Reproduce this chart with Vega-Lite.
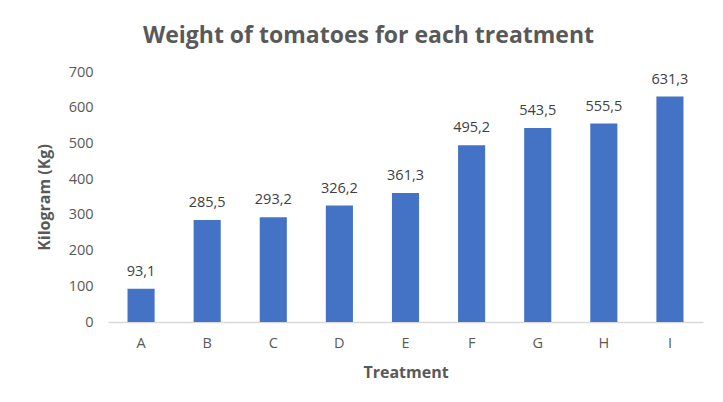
{
  "$schema": "https://vega.github.io/schema/vega-lite/v6.json",
  "width": 595,
  "height": 250,
  "autosize": {"type": "none"},
  "padding": {"left": 108, "top": 72, "right": 20, "bottom": 80},
  "background": "white",
  "config": {
    "locale": {"number": {"decimal": ",", "thousands": ".", "grouping": [3], "currency": ["", ""]}},
    "view": {"stroke": null},
    "font": "Open Sans"
  },
  "title": {
    "text": "Weight of tomatoes for each treatment",
    "anchor": "middle",
    "dx": -37,
    "offset": 16,
    "fontSize": 23,
    "fontWeight": "bold",
    "color": "#595959",
    "font": "Open Sans"
  },
  "data": {
    "values": [
      {"treatment": "A", "kg": 93.1},
      {"treatment": "B", "kg": 285.5},
      {"treatment": "C", "kg": 293.2},
      {"treatment": "D", "kg": 326.2},
      {"treatment": "E", "kg": 361.3},
      {"treatment": "F", "kg": 495.2},
      {"treatment": "G", "kg": 543.5},
      {"treatment": "H", "kg": 555.5},
      {"treatment": "I", "kg": 631.3}
    ]
  },
  "encoding": {
    "x": {
      "field": "treatment",
      "type": "nominal",
      "sort": null,
      "scale": {"paddingInner": 0.59, "paddingOuter": 0.295},
      "axis": {
        "title": "Treatment",
        "labelAngle": 0,
        "ticks": false,
        "domainColor": "#d9d9d9",
        "domainWidth": 1.5,
        "labelColor": "#595959",
        "labelFontSize": 14.5,
        "labelPadding": 14,
        "titleColor": "#595959",
        "titleFontSize": 16,
        "titleFontWeight": "bold",
        "titlePadding": 15
      }
    },
    "y": {
      "field": "kg",
      "type": "quantitative",
      "scale": {"domain": [0, 700]},
      "axis": {
        "title": "Kilogram (Kg)",
        "values": [0, 100, 200, 300, 400, 500, 600, 700],
        "grid": false,
        "domain": false,
        "ticks": false,
        "labelColor": "#595959",
        "labelFontSize": 14.5,
        "labelPadding": 15,
        "titleColor": "#595959",
        "titleFontSize": 16,
        "titleFontWeight": "bold",
        "titlePadding": 16
      }
    }
  },
  "layer": [
    {"mark": {"type": "bar", "color": "#4472C4"}},
    {
      "mark": {"type": "text", "dy": -17, "fontSize": 14.5, "color": "#404040"},
      "encoding": {"text": {"field": "kg", "type": "quantitative", "format": ".1f"}}
    }
  ]
}
